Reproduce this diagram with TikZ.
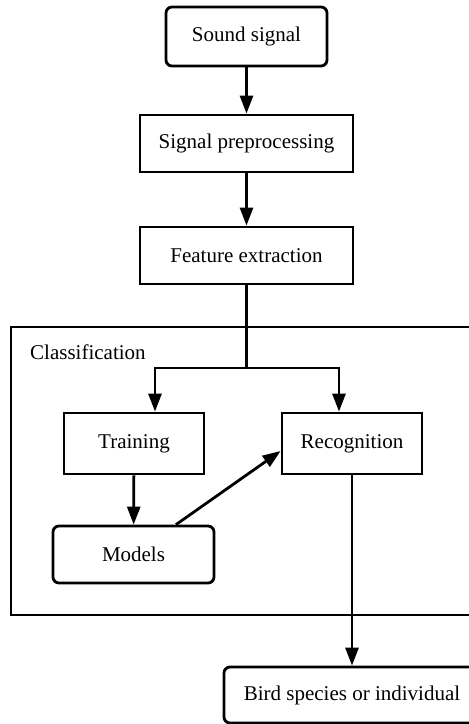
\documentclass[tikz,border=0pt]{standalone}
\usepackage{fontspec}
\setmainfont{Liberation Serif}
\usetikzlibrary{arrows.meta,calc}
\begin{document}
\begin{tikzpicture}[x=1pt,y=-1pt,
  box/.style={draw,line width=2.8pt,inner sep=0pt,font=\fontsize{21}{25}\selectfont},
  rbox/.style={box,rounded corners=6pt},
  conn/.style={line width=2.8pt},
  arr/.style={conn,-{Triangle[length=18pt,width=13pt]}}]
\clip (0,0) rectangle (469,724);
\node[rbox,minimum width=161pt,minimum height=59pt] (sound) at (246.5,36.5) {Sound signal};
\node[box,minimum width=213pt,minimum height=57pt] (prep) at (246.5,143.5) {Signal preprocessing};
\node[box,minimum width=213pt,minimum height=57pt] (feat) at (246.5,255.5) {Feature extraction};
\draw[line width=2.8pt] (11,327) rectangle (470,615);
\node[anchor=west,inner sep=0pt,font=\fontsize{21}{25}\selectfont] (cls) at (30,352) {Classification};
\node[box,minimum width=140pt,minimum height=61pt] (train) at (134,443.5) {Training};
\node[box,minimum width=140pt,minimum height=61pt] (recog) at (352,443.5) {Recognition};
\node[rbox,minimum width=161pt,minimum height=57pt] (models) at (133.5,554.5) {Models};
\node[rbox,minimum width=256pt,minimum height=56pt] (bird) at (352,695) {Bird species or individual};
\coordinate (br) at (246.5,368);
\coordinate (bl) at (155,368);
\coordinate (brr) at (339,368);
\draw[arr] (sound) -- (prep);
\draw[arr] (prep) -- (feat);
\draw[conn] (feat.south) -- (br);
\draw[arr] (br) -- (bl) -- (bl |- train.north);
\draw[arr] (br) -- (brr) -- (brr |- recog.north);
\draw[arr] (train) -- (models);
\draw[arr] ($(models.north)+(42.5,0)$) -- ($(recog.west)+(0,7.5)$);
\draw[arr] (recog) -- (bird);
\end{tikzpicture}
\end{document}
